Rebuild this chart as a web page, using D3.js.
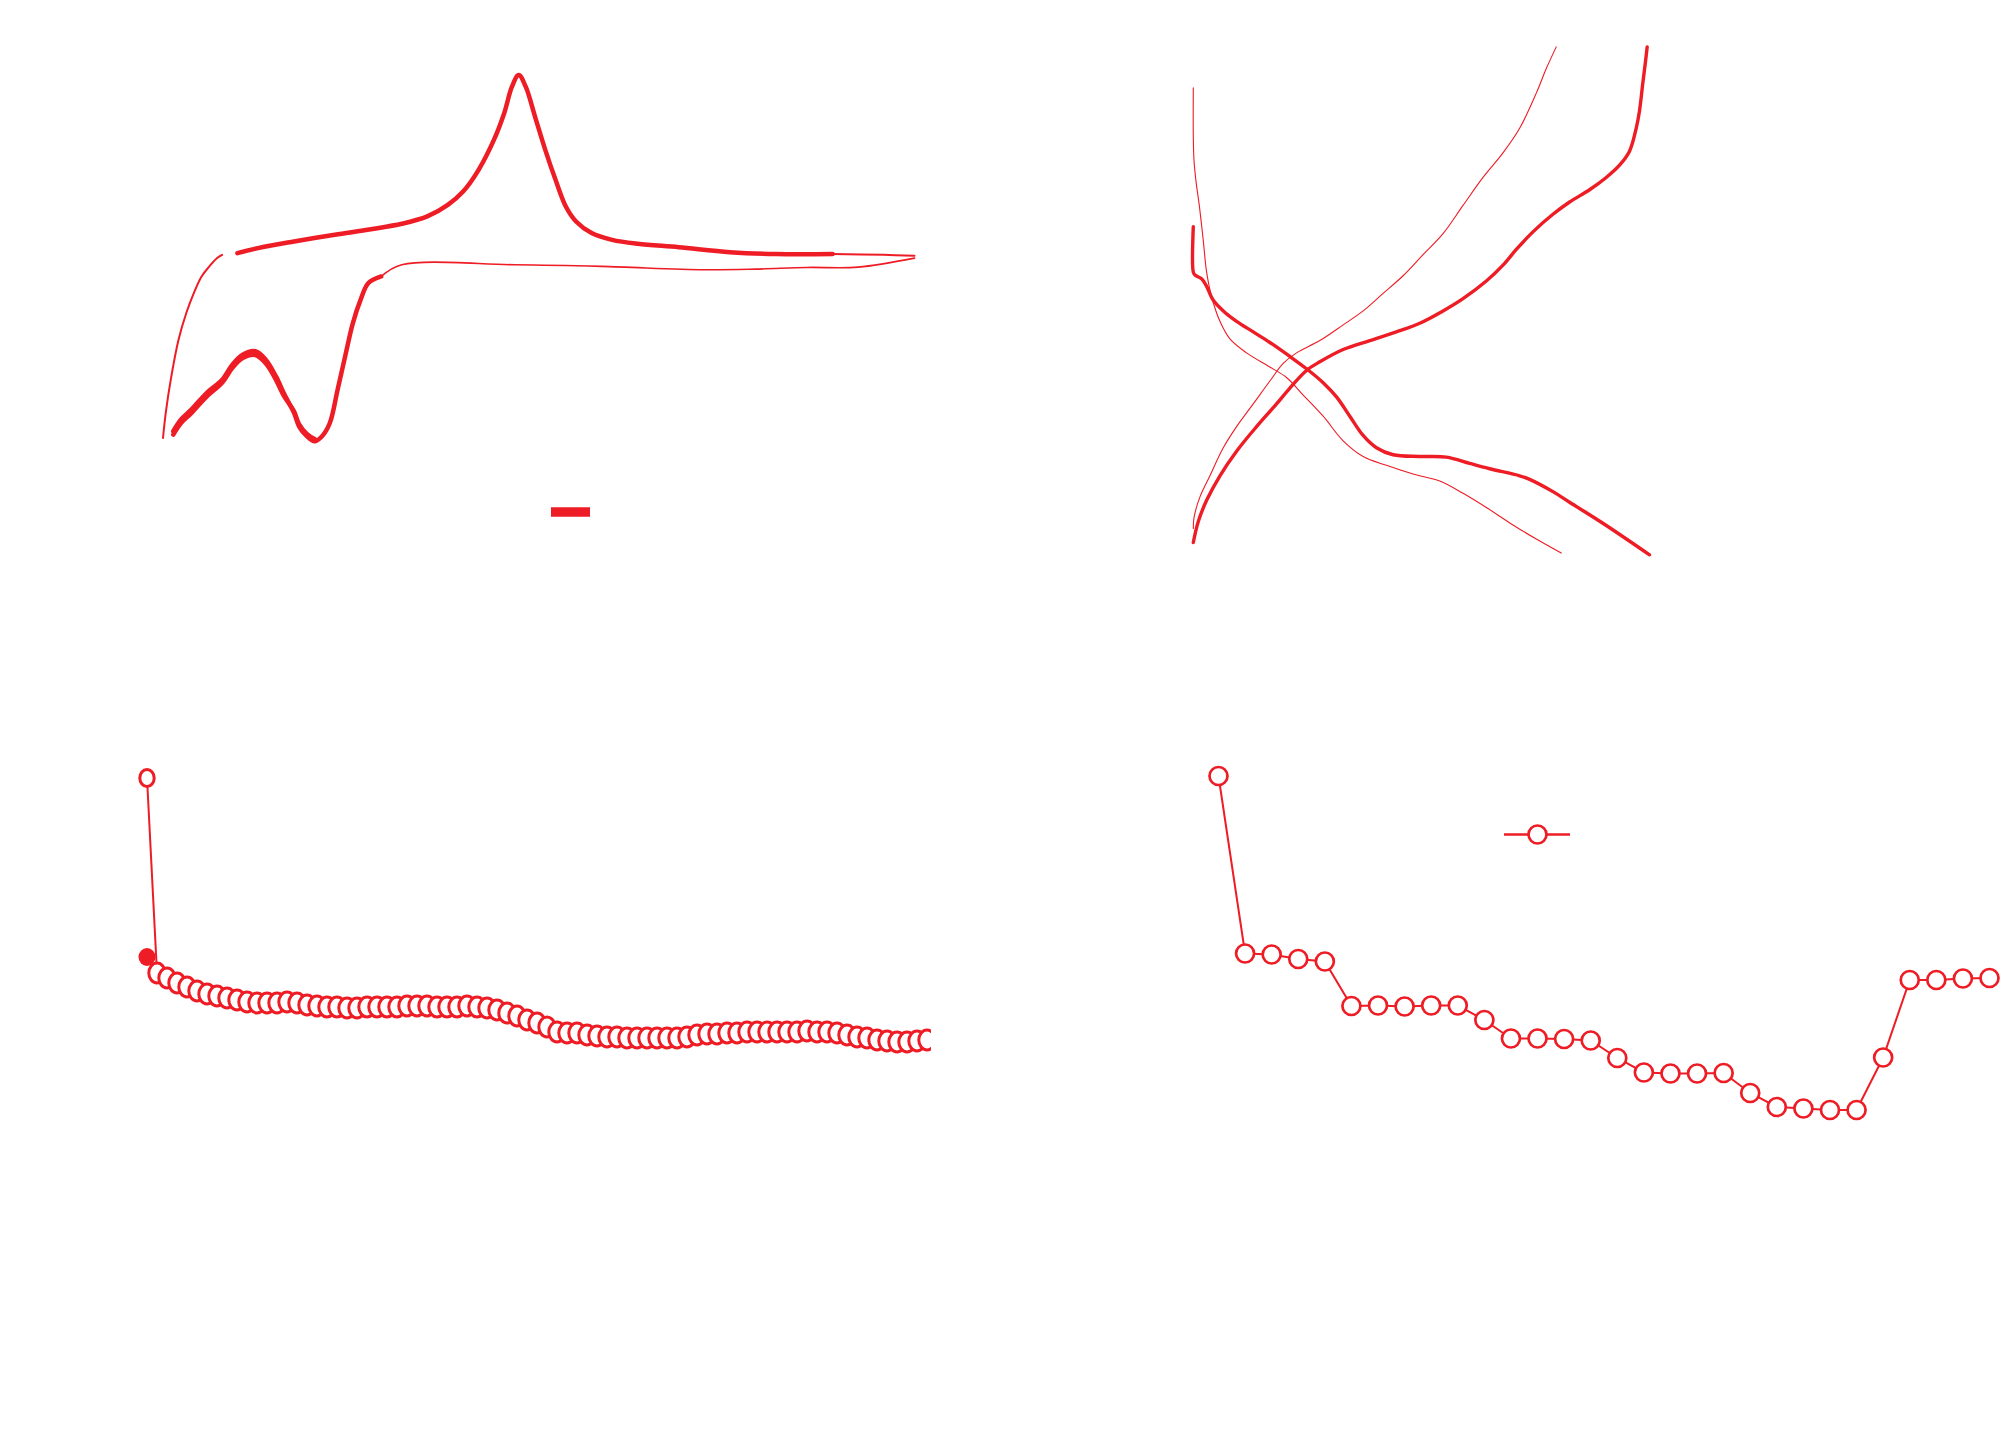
<!DOCTYPE html>
<html>
<head>
<meta charset="utf-8">
<script src="https://cdn.jsdelivr.net/npm/d3@7"></script>
<style>
  html, body { margin: 0; padding: 0; background: #ffffff; }
  svg { display: block; }
</style>
</head>
<body>
<script>
// ---------------- DATA ----------------
// Panel A: cyclic voltammogram (potential V, current mA)
const cvFirstScanE = [0.000, 0.011, 0.031, 0.062, 0.093, 0.123, 0.154, 0.185, 0.215, 0.236];
const cvFirstScanI = [-1.188, -1.021, -0.799, -0.533, -0.355, -0.222, -0.111, -0.044, 0.011, 0.033];

const cvAnodicE = [0.297, 0.379, 0.523, 0.686, 0.830, 0.953, 1.055, 1.137, 1.198, 1.260, 1.321, 1.362, 1.393, 1.420, 1.448, 1.485, 1.526, 1.567, 1.608, 1.649, 1.711, 1.793, 1.895, 2.059, 2.263, 2.448, 2.673, 2.878, 3.000];
const cvAnodicI = [0.044, 0.078, 0.122, 0.167, 0.204, 0.240, 0.289, 0.366, 0.455, 0.600, 0.799, 0.977, 1.154, 1.232, 1.154, 0.955, 0.733, 0.533, 0.355, 0.255, 0.178, 0.133, 0.107, 0.084, 0.051, 0.038, 0.038, 0.033, 0.027];

const cvCathodicE = [3.000, 2.775, 2.571, 2.366, 2.161, 1.751, 1.403, 0.953, 0.871, 0.820, 0.789, 0.758, 0.727, 0.697, 0.666, 0.635, 0.605, 0.574, 0.543, 0.523, 0.482, 0.451, 0.410, 0.369, 0.318, 0.277, 0.236, 0.174, 0.113, 0.072, 0.041];
const cvCathodicI = [0.011, -0.049, -0.051, -0.062, -0.066, -0.044, -0.033, -0.033, -0.111, -0.155, -0.266, -0.422, -0.644, -0.866, -1.088, -1.176, -1.210, -1.176, -1.110, -1.021, -0.888, -0.777, -0.666, -0.610, -0.633, -0.699, -0.799, -0.888, -0.999, -1.065, -1.143];
// second overlapping cathodic cycle (low-potential part)
const cvCathodic2E = [0.605, 0.574, 0.543, 0.523, 0.482, 0.451, 0.410, 0.369, 0.318, 0.277, 0.236, 0.174, 0.113, 0.072, 0.041];
const cvCathodic2I = [-1.195, -1.160, -1.095, -1.010, -0.905, -0.800, -0.690, -0.635, -0.655, -0.720, -0.820, -0.912, -1.022, -1.088, -1.165];

// Panel B: charge / discharge profiles (capacity mAh/g, voltage V)
const chargeThickCap = [0, 11.1, 29.6, 59.2, 96.2, 140.6, 185, 214.6, 251.6, 281.2, 333, 392.2, 451.4, 503.2, 555, 599.4, 651.2, 688.2, 717.8, 754.8, 799.2, 836.2, 880.6, 917.6, 947.2, 969.4, 984.2, 991.6, 999, 1004.9, 1008.6];
const chargeThickV   = [0.085, 0.208, 0.332, 0.476, 0.620, 0.764, 0.897, 0.990, 1.093, 1.144, 1.216, 1.268, 1.319, 1.370, 1.442, 1.514, 1.617, 1.710, 1.802, 1.905, 2.008, 2.080, 2.152, 2.224, 2.296, 2.378, 2.512, 2.615, 2.779, 2.903, 2.989];

const dischargeThickCap = [0, 0, 3.7, 18.5, 29.6, 44.4, 66.6, 96.2, 133.2, 170.2, 214.6, 251.6, 288.6, 318.2, 347.8, 377.4, 407, 444, 503.2, 562.4, 614.2, 658.6, 725.2, 747.4, 799.2, 836.2, 910.2, 1013.8];
const dischargeThickV   = [1.936, 1.669, 1.652, 1.630, 1.586, 1.504, 1.442, 1.381, 1.319, 1.257, 1.175, 1.103, 1.021, 0.938, 0.825, 0.712, 0.640, 0.599, 0.589, 0.585, 0.548, 0.517, 0.476, 0.455, 0.383, 0.321, 0.198, 0.013];

const chargeThinCap = [0, 1.5, 14.8, 37, 66.6, 96.2, 133.2, 170.2, 199.8, 229.4, 281.2, 333, 377.4, 421.8, 466.2, 510.6, 555, 599.4, 643.8, 688.2, 725.2, 762.2, 784.4, 806.6];
const chargeThinV   = [0.167, 0.229, 0.352, 0.476, 0.640, 0.764, 0.897, 1.031, 1.134, 1.196, 1.268, 1.360, 1.442, 1.545, 1.648, 1.772, 1.895, 2.060, 2.224, 2.368, 2.512, 2.718, 2.862, 2.989];

const dischargeThinCap = [0, 0, 1.5, 5.9, 13.3, 22.2, 29.6, 40.7, 59.2, 81.4, 118.4, 170.2, 207.2, 244.2, 288.6, 333, 377.4, 429.2, 488.4, 547.6, 599.4, 651.2, 710.4, 762.2, 817.7];
const dischargeThinV   = [2.749, 2.471, 2.327, 2.204, 2.060, 1.854, 1.669, 1.525, 1.381, 1.278, 1.196, 1.113, 1.052, 0.949, 0.825, 0.681, 0.589, 0.537, 0.486, 0.445, 0.373, 0.290, 0.188, 0.105, 0.023];

// Panel C: cycling capacity (cycle number, mAh/g)
const cycleCapacity = [1044, 654, 644, 634, 626, 618, 612, 608, 604, 600,
  596, 594, 594, 594, 596, 594, 590, 588, 586, 586,
  584, 584, 586, 586, 586, 586, 588, 588, 588, 586,
  586, 586, 588, 586, 584, 580, 574, 568, 560, 554,
  546, 536, 534, 534, 530, 528, 526, 526, 524, 524,
  524, 524, 524, 524, 526, 530, 532, 532, 534, 534,
  536, 536, 536, 536, 536, 536, 538, 536, 536, 534,
  530, 526, 524, 520, 518, 516, 516, 518, 520];
const firstChargeCycle = [1];
const firstChargeCapacity = [686];

// Panel D: rate capability (cycle number, mAh/g)
const rateCapacity = [1048, 693, 691, 682, 677, 588, 589, 587, 589, 589,
  560, 523, 523, 522, 519, 484, 455, 453, 453, 454,
  414, 386, 383, 380, 380, 485, 640, 640, 643, 644];

// ---------------- DRAW ----------------
const W = 2001, H = 1429;
const RED = "#ee1c25";
const svg = d3.select("body").append("svg").attr("width", W).attr("height", H);
svg.append("rect").attr("width", W).attr("height", H).attr("fill", "#fff");

const zip = (a, b) => a.map((v, i) => [v, b[i]]);

// ----- Panel A -----
const xA = d3.scaleLinear().domain([0, 3]).range([163, 914.5]);
const yA = d3.scaleLinear().domain([-1.5, 1.5]).range([484.8, 34.8]);
const lineA = d3.line().x(d => xA(d[0])).y(d => yA(d[1])).curve(d3.curveCatmullRom.alpha(0.5));
const gA = svg.append("g");
const anodic = zip(cvAnodicE, cvAnodicI);
const cathodic = zip(cvCathodicE, cvCathodicI);
const drawA = (pts, w) => gA.append("path").attr("d", lineA(pts))
  .attr("fill", "none").attr("stroke", RED).attr("stroke-width", w)
  .attr("stroke-linejoin", "round").attr("stroke-linecap", "round");
drawA(zip(cvFirstScanE, cvFirstScanI), 2);
drawA(anodic.slice(0, 27), 4.5);
drawA(anodic.slice(26), 2);
drawA(cathodic.slice(0, 9), 1.6);
drawA(cathodic.slice(8), 4.5);
drawA(zip(cvCathodic2E, cvCathodic2I), 4.5);
// legend swatch
gA.append("line").attr("x1", 551).attr("x2", 590).attr("y1", 512).attr("y2", 512)
  .attr("stroke", RED).attr("stroke-width", 9.5);

// ----- Panel B -----
const xB = d3.scaleLinear().domain([0, 1000]).range([1193.3, 1643.3]);
const yB = d3.scaleLinear().domain([0, 3]).range([557, 45]);
const lineB = d3.line().x(d => xB(d[0])).y(d => yB(d[1])).curve(d3.curveCatmullRom.alpha(0.5));
const gB = svg.append("g");
[[chargeThinCap, chargeThinV, 1.1], [dischargeThinCap, dischargeThinV, 1.1],
 [chargeThickCap, chargeThickV, 3.4], [dischargeThickCap, dischargeThickV, 3.4]].forEach(([c, v, w]) => {
  gB.append("path").attr("d", lineB(zip(c, v))).attr("fill", "none")
    .attr("stroke", RED).attr("stroke-width", w).attr("stroke-linecap", "round");
});

// ----- Panel C -----
const xC = d3.scaleLinear().domain([1, 79]).range([147, 927]);
const yC = d3.scaleLinear().domain([0, 1200]).range([1300, 700]);
svg.append("clipPath").attr("id", "clipC").append("rect")
  .attr("x", 100).attr("y", 700).attr("width", 831).attr("height", 450);
const gC = svg.append("g").attr("clip-path", "url(#clipC)");
const dataC = cycleCapacity.map((v, i) => [i + 1, v]);
gC.append("ellipse").attr("cx", xC(firstChargeCycle[0])).attr("cy", yC(firstChargeCapacity[0]))
  .attr("rx", 8.5).attr("ry", 9).attr("fill", RED);
gC.append("path").attr("d", d3.line().x(d => xC(d[0])).y(d => yC(d[1]))(dataC))
  .attr("fill", "none").attr("stroke", RED).attr("stroke-width", 2);
gC.selectAll("ellipse.pt").data(dataC).join("ellipse").attr("class", "pt")
  .attr("cx", d => xC(d[0])).attr("cy", d => yC(d[1]))
  .attr("rx", (d, i) => i === 0 ? 7.2 : 8.2).attr("ry", (d, i) => i === 0 ? 8.5 : 10)
  .attr("fill", "#fff").attr("stroke", RED).attr("stroke-width", 3);

// ----- Panel D -----
const xD = d3.scaleLinear().domain([1, 30]).range([1218.5, 1989.5]);
const yD = d3.scaleLinear().domain([0, 1200]).range([1300, 700]);
const gD = svg.append("g");
const dataD = rateCapacity.map((v, i) => [i + 1, v]);
gD.append("path").attr("d", d3.line().x(d => xD(d[0])).y(d => yD(d[1]))(dataD))
  .attr("fill", "none").attr("stroke", RED).attr("stroke-width", 2);
gD.selectAll("circle.pt").data(dataD).join("circle").attr("class", "pt")
  .attr("cx", d => xD(d[0])).attr("cy", d => yD(d[1])).attr("r", 9)
  .attr("fill", "#fff").attr("stroke", RED).attr("stroke-width", 2.7);
// legend
gD.append("line").attr("x1", 1504).attr("x2", 1570).attr("y1", 834.5).attr("y2", 834.5)
  .attr("stroke", RED).attr("stroke-width", 2.7);
gD.append("circle").attr("cx", 1537.5).attr("cy", 834.5).attr("r", 9)
  .attr("fill", "#fff").attr("stroke", RED).attr("stroke-width", 2.7);
</script>
</body>
</html>
